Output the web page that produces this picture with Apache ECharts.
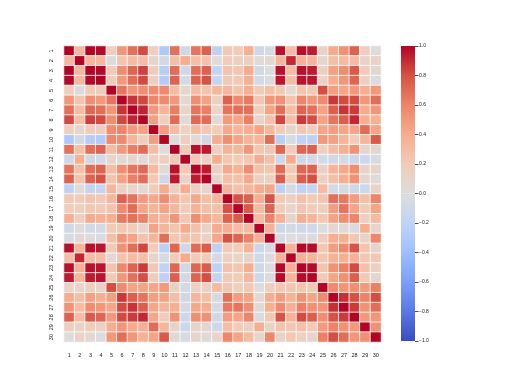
<!DOCTYPE html>
<html>
<head>
<meta charset="utf-8">
<script src="https://cdn.jsdelivr.net/npm/echarts@6/dist/echarts.min.js"></script>
<style>
  html, body {margin: 0; padding: 0; background: #fff;}
  #chart {width: 512px; height: 384px;}
</style>
</head>
<body>
<div id="chart"></div>
<script>
// 坐标标签 1..30
var labels = ['1','2','3','4','5','6','7','8','9','10','11','12','13','14','15',
              '16','17','18','19','20','21','22','23','24','25','26','27','28','29','30'];

// 相关系数矩阵，每行一个
var corr = [
  [1.00,0.32,1.00,0.99,0.17,0.51,0.68,0.82,0.15,-0.31,0.68,-0.10,0.67,0.74,-0.22,0.21,0.19,0.38,-0.10,-0.04,0.97,0.30,0.97,0.94,0.12,0.41,0.53,0.74,0.16,0.01],
  [0.32,1.00,0.33,0.32,-0.02,0.24,0.30,0.29,0.07,-0.08,0.28,0.39,0.28,0.26,0.01,0.19,0.14,0.16,0.01,0.05,0.35,0.91,0.36,0.34,0.08,0.28,0.30,0.30,0.11,0.12],
  [1.00,0.33,1.00,0.99,0.21,0.56,0.72,0.85,0.18,-0.26,0.69,-0.09,0.69,0.74,-0.20,0.25,0.23,0.41,-0.08,-0.01,0.97,0.30,0.97,0.94,0.15,0.46,0.56,0.77,0.19,0.05],
  [0.99,0.32,0.99,1.00,0.18,0.50,0.69,0.82,0.15,-0.28,0.73,-0.07,0.73,0.80,-0.17,0.21,0.21,0.37,-0.07,-0.02,0.96,0.29,0.96,0.96,0.12,0.39,0.51,0.72,0.14,0.00],
  [0.17,-0.02,0.21,0.18,1.00,0.66,0.52,0.55,0.56,0.58,0.30,0.07,0.30,0.25,0.33,0.32,0.25,0.38,0.20,0.28,0.21,0.04,0.24,0.21,0.81,0.47,0.43,0.50,0.39,0.50],
  [0.51,0.24,0.56,0.50,0.66,1.00,0.88,0.83,0.60,0.57,0.50,0.05,0.55,0.46,0.14,0.74,0.57,0.64,0.23,0.51,0.54,0.25,0.59,0.51,0.57,0.87,0.82,0.82,0.51,0.69],
  [0.68,0.30,0.72,0.69,0.52,0.88,1.00,0.92,0.50,0.34,0.63,0.08,0.66,0.62,0.10,0.67,0.69,0.68,0.18,0.45,0.69,0.30,0.73,0.68,0.45,0.75,0.88,0.86,0.41,0.51],
  [0.82,0.29,0.85,0.82,0.55,0.83,0.92,1.00,0.46,0.17,0.70,0.02,0.71,0.69,0.03,0.49,0.44,0.62,0.10,0.26,0.83,0.29,0.86,0.81,0.45,0.67,0.75,0.91,0.38,0.37],
  [0.15,0.07,0.18,0.15,0.56,0.60,0.50,0.46,1.00,0.48,0.30,0.13,0.31,0.22,0.19,0.42,0.34,0.39,0.45,0.33,0.19,0.09,0.22,0.18,0.43,0.47,0.43,0.43,0.70,0.44],
  [-0.31,-0.08,-0.26,-0.28,0.58,0.57,0.34,0.17,0.48,1.00,0.00,0.16,0.04,-0.09,0.40,0.56,0.45,0.34,0.35,0.69,-0.25,-0.05,-0.21,-0.23,0.50,0.46,0.35,0.18,0.33,0.77],
  [0.68,0.28,0.69,0.73,0.30,0.50,0.63,0.70,0.30,0.00,1.00,0.21,0.97,0.95,0.16,0.36,0.33,0.51,0.24,0.23,0.72,0.19,0.72,0.75,0.14,0.29,0.38,0.53,0.09,0.05],
  [-0.10,0.39,-0.09,-0.07,0.07,0.05,0.08,0.02,0.13,0.16,0.21,1.00,0.22,0.11,0.40,0.23,0.19,0.23,0.41,0.28,-0.11,0.41,-0.10,-0.08,-0.07,-0.09,-0.07,-0.12,-0.13,-0.05],
  [0.67,0.28,0.69,0.73,0.30,0.55,0.66,0.71,0.31,0.04,0.97,0.22,1.00,0.94,0.15,0.42,0.36,0.56,0.27,0.24,0.70,0.20,0.72,0.73,0.13,0.34,0.42,0.55,0.11,0.09],
  [0.74,0.26,0.74,0.80,0.25,0.46,0.62,0.69,0.22,-0.09,0.95,0.11,0.94,1.00,0.08,0.28,0.27,0.42,0.13,0.13,0.76,0.20,0.76,0.81,0.13,0.28,0.39,0.54,0.07,0.02],
  [-0.22,0.01,-0.20,-0.17,0.33,0.14,0.10,0.03,0.19,0.40,0.16,0.40,0.15,0.08,1.00,0.34,0.27,0.33,0.41,0.43,-0.23,-0.07,-0.22,-0.18,0.31,-0.06,-0.06,-0.10,-0.11,0.10],
  [0.21,0.19,0.25,0.21,0.32,0.74,0.67,0.49,0.42,0.56,0.36,0.23,0.42,0.28,0.34,1.00,0.80,0.74,0.39,0.80,0.20,0.14,0.26,0.20,0.23,0.68,0.64,0.48,0.28,0.59],
  [0.19,0.14,0.23,0.21,0.25,0.57,0.69,0.44,0.34,0.45,0.33,0.19,0.36,0.27,0.27,0.80,1.00,0.77,0.31,0.73,0.19,0.10,0.23,0.19,0.17,0.48,0.66,0.44,0.20,0.44],
  [0.38,0.16,0.41,0.37,0.38,0.64,0.68,0.62,0.39,0.34,0.51,0.23,0.56,0.42,0.33,0.74,0.77,1.00,0.31,0.61,0.36,0.09,0.39,0.34,0.22,0.45,0.55,0.60,0.14,0.31],
  [-0.10,0.01,-0.08,-0.07,0.20,0.23,0.18,0.10,0.45,0.35,0.24,0.41,0.27,0.13,0.41,0.39,0.31,0.31,1.00,0.37,-0.13,-0.08,-0.10,-0.11,-0.01,0.06,0.04,-0.03,0.39,0.08],
  [-0.04,0.05,-0.01,-0.02,0.28,0.51,0.45,0.26,0.33,0.69,0.23,0.28,0.24,0.13,0.43,0.80,0.73,0.61,0.37,1.00,-0.04,0.00,0.00,-0.02,0.17,0.39,0.38,0.22,0.11,0.59],
  [0.97,0.35,0.97,0.96,0.21,0.54,0.69,0.83,0.19,-0.25,0.72,-0.11,0.70,0.76,-0.23,0.20,0.19,0.36,-0.13,-0.04,1.00,0.36,0.99,0.98,0.22,0.48,0.57,0.79,0.24,0.09],
  [0.30,0.91,0.30,0.29,0.04,0.25,0.30,0.29,0.09,-0.05,0.19,0.41,0.20,0.20,-0.07,0.14,0.10,0.09,-0.08,0.00,0.36,1.00,0.37,0.35,0.23,0.36,0.37,0.36,0.23,0.22],
  [0.97,0.36,0.97,0.96,0.24,0.59,0.73,0.86,0.22,-0.21,0.72,-0.10,0.72,0.76,-0.22,0.26,0.23,0.39,-0.10,0.00,0.99,0.37,1.00,0.98,0.24,0.53,0.62,0.82,0.27,0.14],
  [0.94,0.34,0.94,0.96,0.21,0.51,0.68,0.81,0.18,-0.23,0.75,-0.08,0.73,0.81,-0.18,0.20,0.19,0.34,-0.11,-0.02,0.98,0.35,0.98,1.00,0.21,0.44,0.54,0.75,0.21,0.08],
  [0.12,0.08,0.15,0.12,0.81,0.57,0.45,0.45,0.43,0.50,0.14,-0.07,0.13,0.13,0.31,0.23,0.17,0.22,-0.01,0.17,0.22,0.23,0.24,0.21,1.00,0.57,0.52,0.55,0.49,0.62],
  [0.41,0.28,0.46,0.39,0.47,0.87,0.75,0.67,0.47,0.46,0.29,-0.09,0.34,0.28,-0.06,0.68,0.48,0.45,0.06,0.39,0.48,0.36,0.53,0.44,0.57,1.00,0.89,0.80,0.61,0.81],
  [0.53,0.30,0.56,0.51,0.43,0.82,0.88,0.75,0.43,0.35,0.38,-0.07,0.42,0.39,-0.06,0.64,0.66,0.55,0.04,0.38,0.57,0.37,0.62,0.54,0.52,0.89,1.00,0.86,0.53,0.69],
  [0.74,0.30,0.77,0.72,0.50,0.82,0.86,0.91,0.43,0.18,0.53,-0.12,0.55,0.54,-0.10,0.48,0.44,0.60,-0.03,0.22,0.79,0.36,0.82,0.75,0.55,0.80,0.86,1.00,0.50,0.51],
  [0.16,0.11,0.19,0.14,0.39,0.51,0.41,0.38,0.70,0.33,0.09,-0.13,0.11,0.07,-0.11,0.28,0.20,0.14,0.39,0.11,0.24,0.23,0.27,0.21,0.49,0.61,0.53,0.50,1.00,0.54],
  [0.01,0.12,0.05,0.00,0.50,0.69,0.51,0.37,0.44,0.77,0.05,-0.05,0.09,0.02,0.10,0.59,0.44,0.31,0.08,0.59,0.09,0.22,0.14,0.08,0.62,0.81,0.69,0.51,0.54,1.00]
];

// coolwarm 色带
var coolwarm = ['#3b4cc0','#5a78e4','#7b9ff9','#9ebeff','#c0d4f5','#dddcdc',
                '#f2cbb7','#f7ac8e','#ee8468','#d65244','#b40426'];

var cells = [];
corr.forEach(function(row, i) {
    row.forEach(function(v, j) {
        cells.push([j, i, v]);
    });
});

var font = 'Liberation Sans, Arial, sans-serif';
var chart = echarts.init(document.getElementById('chart'), null, {renderer: 'canvas'});

chart.setOption({
    animation: false,
    backgroundColor: '#fff',
    grid: [
        {left: 64, top: 46, width: 317, height: 296},
        {left: 401, top: 46, width: 14, height: 295}
    ],
    xAxis: [
        {
            type: 'category', data: labels, gridIndex: 0,
            axisLine: {show: false}, axisTick: {show: false}, splitLine: {show: false},
            axisLabel: {fontSize: 5.5, color: '#1a1a1a', fontFamily: font, margin: 10, interval: 0}
        },
        {
            type: 'category', data: ['c'], gridIndex: 1, show: false
        }
    ],
    yAxis: [
        {
            type: 'category', data: labels, gridIndex: 0, inverse: true,
            axisLine: {show: false}, axisTick: {show: false}, splitLine: {show: false},
            axisLabel: {fontSize: 5.5, color: '#1a1a1a', fontFamily: font, margin: 10, rotate: 90, interval: 0}
        },
        {
            type: 'value', gridIndex: 1, min: -1, max: 1, interval: 0.2, position: 'right',
            axisLine: {show: false}, splitLine: {show: false},
            axisTick: {show: true, length: 3.5, lineStyle: {color: '#222', width: 0.8}},
            axisLabel: {
                fontSize: 5, color: '#1a1a1a', fontFamily: font, margin: 4,
                formatter: function(v) { return v < 0 ? '\u2212' + Math.abs(v).toFixed(1) : v.toFixed(1); }
            }
        }
    ],
    visualMap: {
        show: false, min: -1, max: 1, seriesIndex: 0, dimension: 2,
        inRange: {color: coolwarm}
    },
    series: [
        {
            type: 'heatmap', xAxisIndex: 0, yAxisIndex: 0, data: cells,
            itemStyle: {borderColor: '#fff', borderWidth: 0.8}
        },
        // 色条：上半段与下半段
        {
            type: 'bar', xAxisIndex: 1, yAxisIndex: 1, data: [1], barWidth: '100%', barGap: '-100%',
            itemStyle: {color: new echarts.graphic.LinearGradient(0, 1, 0, 0, [
                {offset: 0, color: coolwarm[5]}, {offset: 0.2, color: coolwarm[6]},
                {offset: 0.4, color: coolwarm[7]}, {offset: 0.6, color: coolwarm[8]},
                {offset: 0.8, color: coolwarm[9]}, {offset: 1, color: coolwarm[10]}
            ])}
        },
        {
            type: 'bar', xAxisIndex: 1, yAxisIndex: 1, data: [-1], barWidth: '100%', barGap: '-100%',
            itemStyle: {color: new echarts.graphic.LinearGradient(0, 0, 0, 1, [
                {offset: 0, color: coolwarm[5]}, {offset: 0.2, color: coolwarm[4]},
                {offset: 0.4, color: coolwarm[3]}, {offset: 0.6, color: coolwarm[2]},
                {offset: 0.8, color: coolwarm[1]}, {offset: 1, color: coolwarm[0]}
            ])}
        }
    ]
});
</script>
</body>
</html>
